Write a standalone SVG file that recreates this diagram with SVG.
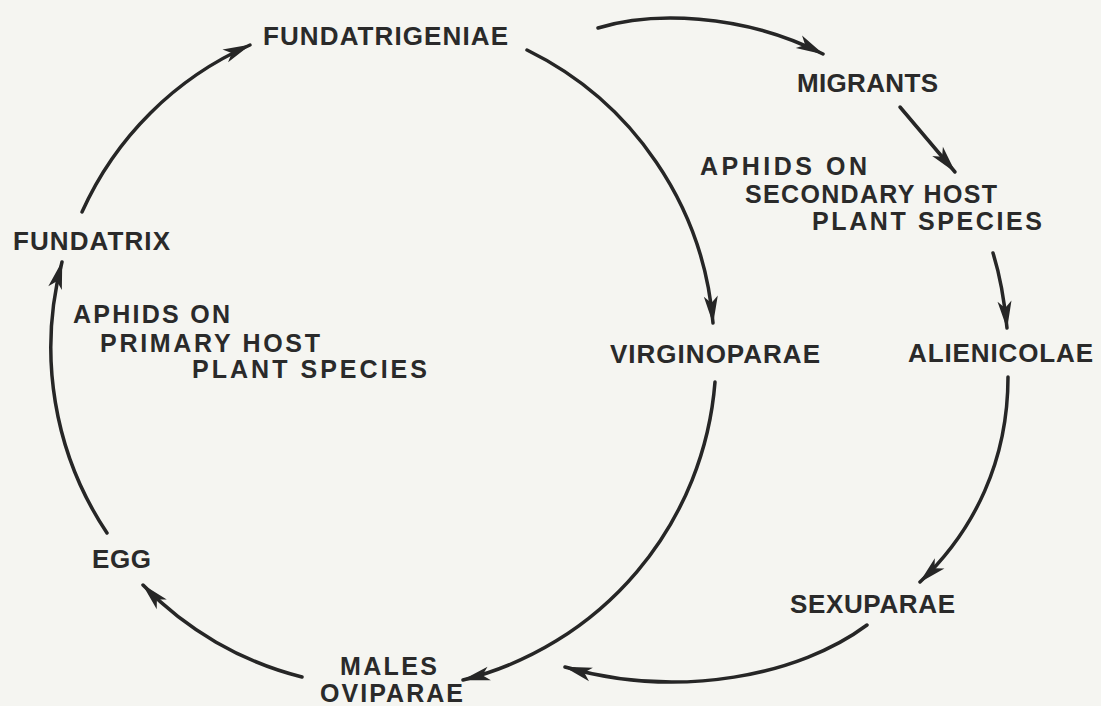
<svg xmlns="http://www.w3.org/2000/svg" width="1101" height="706" viewBox="0 0 1101 706">
<style>
.lbl{font-family:"Liberation Sans",Arial,sans-serif;font-weight:bold;font-size:26px;fill:#2a2a2a}
.sm{font-size:25px}
.con{fill:none;stroke:#262626;stroke-width:3.5;stroke-linecap:round}
</style>
<defs>
<marker id="ah" markerUnits="userSpaceOnUse" markerWidth="34" markerHeight="20" viewBox="-30 -10 34 20" refX="0" refY="0" orient="auto">
<path d="M1,0 L-27,-7 L-20,0 L-27,7 Z" fill="#262626"/>
</marker>
</defs>
<rect x="0" y="0" width="1101" height="706" fill="#f5f5f1"/>
<g id="connectors">
<path class="con" d="M107,533 A334,334 0 0 1 62,262" marker-end="url(#ah)"/>
<path class="con" d="M82,212 A330,330 0 0 1 250,45" marker-end="url(#ah)"/>
<path class="con" d="M527,50 A334,334 0 0 1 713,323" marker-end="url(#ah)"/>
<path class="con" d="M715,382 A334,334 0 0 1 463,680" marker-end="url(#ah)"/>
<path class="con" d="M302,677 A334,334 0 0 1 143,585" marker-end="url(#ah)"/>
<path class="con" d="M598,28 C650,12 740,12 823,54" marker-end="url(#ah)"/>
<path class="con" d="M900,107 L955,172" marker-end="url(#ah)"/>
<path class="con" d="M993,253 Q1003,285 1007,328" marker-end="url(#ah)"/>
<path class="con" d="M1008,377 C1008,460 975,530 920,582" marker-end="url(#ah)"/>
<path class="con" d="M867,625 C800,675 680,700 565,667" marker-end="url(#ah)"/>
</g>
<g id="n-fundatrigeniae"><text class="lbl" x="263" y="45" textLength="245" lengthAdjust="spacing">FUNDATRIGENIAE</text></g>
<g id="n-migrants"><text class="lbl" x="797" y="92" textLength="141" lengthAdjust="spacing">MIGRANTS</text></g>
<g id="n-secondary">
<text class="lbl sm" x="700" y="175" textLength="167" lengthAdjust="spacing">APHIDS ON</text>
<text class="lbl sm" x="745" y="203" textLength="252" lengthAdjust="spacing">SECONDARY HOST</text>
<text class="lbl sm" x="812" y="230" textLength="230" lengthAdjust="spacing">PLANT SPECIES</text>
</g>
<g id="n-fundatrix"><text class="lbl" x="13" y="250" textLength="157" lengthAdjust="spacing">FUNDATRIX</text></g>
<g id="n-primary">
<text class="lbl sm" x="73" y="323" textLength="157" lengthAdjust="spacing">APHIDS ON</text>
<text class="lbl sm" x="100" y="352" textLength="220" lengthAdjust="spacing">PRIMARY HOST</text>
<text class="lbl sm" x="192" y="378" textLength="235" lengthAdjust="spacing">PLANT SPECIES</text>
</g>
<g id="n-virginoparae"><text class="lbl" x="610" y="363" textLength="210" lengthAdjust="spacing">VIRGINOPARAE</text></g>
<g id="n-alienicolae"><text class="lbl" x="908" y="362" textLength="185" lengthAdjust="spacing">ALIENICOLAE</text></g>
<g id="n-sexuparae"><text class="lbl" x="790" y="613" textLength="165" lengthAdjust="spacing">SEXUPARAE</text></g>
<g id="n-egg"><text class="lbl" x="92" y="568" textLength="59" lengthAdjust="spacing">EGG</text></g>
<g id="n-males-oviparae">
<text class="lbl sm" x="340" y="675" textLength="97" lengthAdjust="spacing">MALES</text>
<text class="lbl sm" x="320" y="702" textLength="143" lengthAdjust="spacing">OVIPARAE</text>
</g>
</svg>
